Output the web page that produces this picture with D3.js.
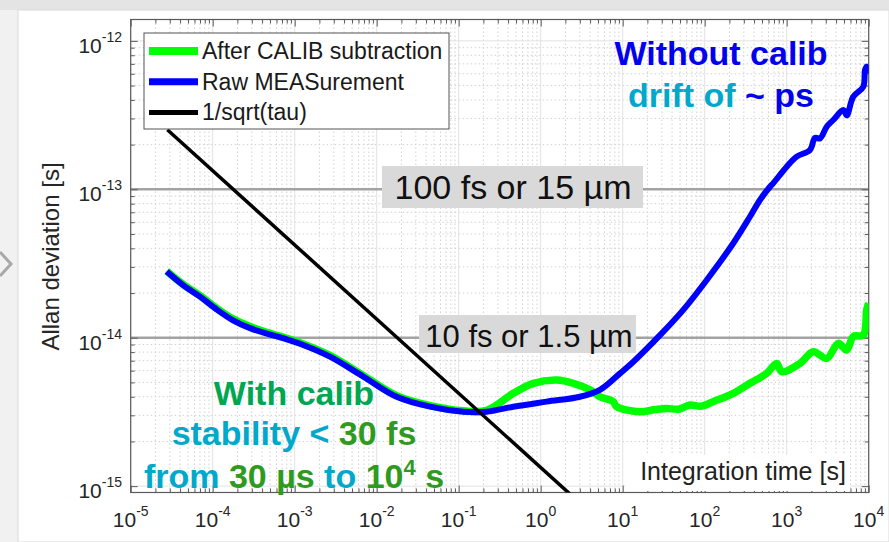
<!DOCTYPE html>
<html>
<head>
<meta charset="utf-8">
<script src="https://cdn.jsdelivr.net/npm/d3@7/dist/d3.min.js"></script>
<style>
body { margin: 0; background: #fff; }
svg { display: block; font-family: "Liberation Sans", Arial, sans-serif; }
</style>
</head>
<body>
<div id="chart"></div>
<script>
let w = 889;
let h = 542;
let plot = {left: 130.7, right: 868.7, top: 19.5, bottom: 492.5};

// tick exponents
let xTickExp = [-5, -4, -3, -2, -1, 0, 1, 2, 3, 4];
let yTickExp = [-15, -14, -13, -12];

// Raw MEASurement (blue)
let rawTau = [2.75e-5, 4.35e-5, 7.0e-5, 1.1e-4, 1.77e-4, 2.85e-4, 4.47e-4, 7.2e-4, 1.16e-3, 2.69e-3, 6.9e-3, 1.75e-2, 4.47e-2,
    0.114, 0.219, 0.463, 1.18, 3.01, 5.28, 9.27, 13.5, 28.5, 54.8, 106, 223, 356, 472, 625, 687,
    1000, 1324, 1923, 2213, 2547, 3076, 3698, 4898, 5395, 6486, 8590, 9016, 9462, 10000];
let rawDev = [2.79e-14, 2.26e-14, 1.89e-14, 1.56e-14, 1.31e-14, 1.16e-14, 1.07e-14, 9.95e-15, 9.1e-15, 7.45e-15, 5.46e-15, 4.0e-15, 3.43e-15,
    3.17e-15, 3.17e-15, 3.43e-15, 3.71e-15, 4.0e-15, 4.45e-15, 5.75e-15, 6.89e-15, 1.04e-14, 1.54e-14, 2.45e-14, 4.33e-14, 6.53e-14, 8.47e-14, 1.04e-13, 1.10e-13,
    1.42e-13, 1.66e-13, 1.84e-13, 2.22e-13, 2.20e-13, 2.64e-13, 2.93e-13, 3.42e-13, 3.15e-13, 4.21e-13, 4.91e-13, 6.37e-13, 6.70e-13, 6.05e-13];

// After CALIB subtraction (green)
let calTau = [2.75e-5, 4.35e-5, 7.0e-5, 1.1e-4, 1.77e-4, 2.85e-4, 4.47e-4, 7.2e-4, 1.16e-3, 2.69e-3, 6.9e-3, 1.75e-2, 4.47e-2,
    0.114, 0.219, 0.463, 0.813, 1.57, 2.5, 3.99, 5.28, 7.67, 8.45, 16.3, 25, 34.4, 48, 66.2, 90, 127, 223, 356, 570, 755, 869,
    1452, 2109, 3076, 4256, 5395, 6486, 8590, 9462, 10000];
let calDev = [2.81e-14, 2.29e-14, 1.92e-14, 1.59e-14, 1.34e-14, 1.19e-14, 1.09e-14, 1.01e-14, 9.25e-15, 7.6e-15, 5.55e-15, 4.07e-15, 3.49e-15,
    3.22e-15, 3.24e-15, 4.22e-15, 4.93e-15, 5.19e-15, 4.93e-15, 4.45e-15, 4.0e-15, 3.71e-15, 3.43e-15, 3.17e-15, 3.28e-15, 3.34e-15, 3.30e-15, 3.52e-15, 3.45e-15, 3.71e-15, 4.22e-15, 4.93e-15, 5.75e-15, 6.71e-15, 5.90e-15,
    6.71e-15, 8.05e-15, 7.26e-15, 9.16e-15, 8.26e-15, 1.02e-14, 1.04e-14, 1.54e-14, 1.71e-14];

// 1/sqrt(tau) reference (black), end points
let refTau = [2.8e-5, 2.3];
let refDev = [2.52e-13, 8.8e-16];

let legendLabels = ['After CALIB subtraction', 'Raw MEASurement', '1/sqrt(tau)'];
let legendColors = ['#00ff00', '#0000ff', '#000000'];

window.onload = () => {
    let svg = d3.select('#chart')
        .append('svg')
        .attr('width', w)
        .attr('height', h);

    // slide chrome around the figure
    svg.append('rect').attr('width', w).attr('height', h).attr('fill', '#f1f1f1');
    svg.append('rect').attr('width', w).attr('height', 10).attr('fill', '#e4e4e4');
    svg.append('rect').attr('x', 18).attr('y', 10).attr('width', w - 18).attr('height', h - 10)
        .attr('fill', '#fff').attr('stroke', '#dadada');
    svg.append('polyline')
        .attr('points', '0,252 11,264 0,276')
        .attr('fill', 'none').attr('stroke', '#a9a9a9').attr('stroke-width', 3);

    let xScale = d3.scaleLog()
        .domain([1e-5, 1e4])
        .range([plot.left, plot.right]);

    let yScale = d3.scaleLog()
        .domain([9.06e-16, 1.393e-12])
        .range([plot.bottom, plot.top]);

    let xMajor = xTickExp.map(e => Math.pow(10, e));
    let yMajor = d3.range(-16, -11).map(e => Math.pow(10, e)).filter(v => v >= 9.06e-16 && v <= 1.393e-12);
    let minorOf = (exps, lo, hi) => {
        let out = [];
        exps.forEach(e => d3.range(2, 10).forEach(k => {
            let v = k * Math.pow(10, e);
            if (v > lo && v < hi) out.push(v);
        }));
        return out;
    };
    let xMinor = minorOf(d3.range(-5, 4), 1e-5, 1e4);
    let yMinor = minorOf(d3.range(-16, -11), 9.06e-16, 1.393e-12);

    // grid
    let grid = svg.append('g');
    grid.selectAll('.xmin').data(xMinor).join('line')
        .attr('x1', d => xScale(d)).attr('x2', d => xScale(d))
        .attr('y1', plot.top).attr('y2', plot.bottom)
        .attr('stroke', '#d2d2d2').attr('stroke-dasharray', '1.5,2.5');
    grid.selectAll('.ymin').data(yMinor).join('line')
        .attr('y1', d => yScale(d)).attr('y2', d => yScale(d))
        .attr('x1', plot.left).attr('x2', plot.right)
        .attr('stroke', '#d2d2d2').attr('stroke-dasharray', '1.5,2.5');
    grid.selectAll('.xmaj').data(xMajor).join('line')
        .attr('x1', d => xScale(d)).attr('x2', d => xScale(d))
        .attr('y1', plot.top).attr('y2', plot.bottom)
        .attr('stroke', '#e2e2e2');
    grid.selectAll('.ymaj').data(yMajor).join('line')
        .attr('y1', d => yScale(d)).attr('y2', d => yScale(d))
        .attr('x1', plot.left).attr('x2', plot.right)
        .attr('stroke', '#e2e2e2');

    // 100 fs and 10 fs reference lines
    svg.selectAll('.ref').data([1e-13, 1e-14]).join('line')
        .attr('y1', d => yScale(d)).attr('y2', d => yScale(d))
        .attr('x1', plot.left).attr('x2', plot.right)
        .attr('stroke', '#a3a3a3').attr('stroke-width', 2.5);

    // axes, ticks inside
    let axes = [
        [d3.axisBottom(xScale), `translate(0,${plot.bottom})`, xMajor, xMinor],
        [d3.axisTop(xScale), `translate(0,${plot.top})`, xMajor, xMinor],
        [d3.axisLeft(yScale), `translate(${plot.left},0)`, yMajor, yMinor],
        [d3.axisRight(yScale), `translate(${plot.right},0)`, yMajor, yMinor]
    ];
    axes.forEach(([ax, tr, maj, min]) => {
        [[maj, 7], [min, 4]].forEach(([vals, len]) => {
            let g = svg.append('g')
                .attr('transform', tr)
                .call(ax.tickValues(vals).tickSize(-len).tickFormat(''));
            g.select('.domain').remove();
            g.selectAll('line').attr('stroke', '#5a5a5a');
        });
    });

    svg.append('rect')
        .attr('x', plot.left).attr('y', plot.top)
        .attr('width', plot.right - plot.left).attr('height', plot.bottom - plot.top)
        .attr('fill', 'none').attr('stroke', '#5a5a5a').attr('stroke-width', 1.2);

    // tick labels 10^n
    let xLab = svg.append('g').selectAll('text').data(xTickExp).join('text')
        .attr('x', d => xScale(Math.pow(10, d)))
        .attr('y', 527)
        .attr('text-anchor', 'middle')
        .attr('fill', '#262626');
    xLab.append('tspan').text('10').style('font-size', '21px');
    xLab.append('tspan').text(d => String(d)).attr('dy', -11).style('font-size', '14px');

    let yLab = svg.append('g').selectAll('text').data(yTickExp).join('text')
        .attr('x', 122)
        .attr('y', d => yScale(Math.pow(10, d)) + 12)
        .attr('text-anchor', 'end')
        .attr('fill', '#262626');
    yLab.append('tspan').text('10').style('font-size', '21px');
    yLab.append('tspan').text(d => String(d)).attr('dy', -11).style('font-size', '14px');

    svg.append('text')
        .attr('transform', 'translate(59,256.5) rotate(-90)')
        .attr('text-anchor', 'middle')
        .attr('fill', '#262626')
        .style('font-size', '24px')
        .text('Allan deviation [s]');

    // grey label boxes on the reference lines
    svg.append('rect').attr('x', 382).attr('y', 166).attr('width', 261).attr('height', 42).attr('fill', '#d9d9d9');
    svg.append('text').attr('x', 513).attr('y', 199).attr('text-anchor', 'middle')
        .style('font-size', '34px').attr('fill', '#111').text('100 fs or 15 µm');
    svg.append('rect').attr('x', 419).attr('y', 315).attr('width', 217).attr('height', 38).attr('fill', '#d9d9d9');
    svg.append('text').attr('x', 529).attr('y', 346.5).attr('text-anchor', 'middle')
        .style('font-size', '31px').attr('fill', '#111').text('10 fs or 1.5 µm');

    // x label with white backing
    svg.append('rect').attr('x', 625).attr('y', 455).attr('width', 225).attr('height', 36).attr('fill', '#fff');
    svg.append('text').attr('x', 743).attr('y', 479.5).attr('text-anchor', 'middle')
        .style('font-size', '25px').attr('fill', '#222').text('Integration time [s]');

    // curves
    svg.append('clipPath').attr('id', 'clip').append('rect')
        .attr('x', plot.left).attr('y', plot.top)
        .attr('width', plot.right - plot.left).attr('height', plot.bottom - plot.top);

    let line = d3.line()
        .x(d => xScale(d[0]))
        .y(d => yScale(d[1]))
        .curve(d3.curveCatmullRom.alpha(0.5));

    let curves = svg.append('g').attr('clip-path', 'url(#clip)');
    curves.append('path')
        .datum(d3.zip(calTau, calDev))
        .attr('d', line)
        .attr('fill', 'none').attr('stroke', '#00ff00').attr('stroke-width', 7.5)
        .attr('stroke-linejoin', 'round');
    curves.append('path')
        .datum(d3.zip(rawTau, rawDev))
        .attr('d', line)
        .attr('fill', 'none').attr('stroke', '#0000ff').attr('stroke-width', 6)
        .attr('stroke-linejoin', 'round');
    curves.append('path')
        .datum(d3.zip(refTau, refDev))
        .attr('d', d3.line().x(d => xScale(d[0])).y(d => yScale(d[1])))
        .attr('fill', 'none').attr('stroke', '#000').attr('stroke-width', 3.5);

    // legend
    let lg = svg.append('g');
    lg.append('rect').attr('x', 144).attr('y', 33).attr('width', 305).attr('height', 96)
        .attr('fill', '#fff').attr('stroke', '#555');
    let rows = lg.selectAll('g').data(legendLabels).join('g')
        .attr('transform', (d, i) => `translate(0,${51 + i * 30.7})`);
    rows.append('line')
        .attr('x1', 149).attr('x2', 198)
        .attr('stroke', (d, i) => legendColors[i])
        .attr('stroke-width', (d, i) => [8, 7, 5][i]);
    rows.append('text')
        .attr('x', 202).attr('y', 8)
        .style('font-size', '23px').attr('fill', '#1a1a1a')
        .text(d => d);

    // annotations
    let blue = '#0000ee', cyan = '#00a8cc', green = '#00a651', dgreen = '#2e9b1e';
    let ann = (x, y, parts) => {
        let t = svg.append('text').attr('x', x).attr('y', y).attr('text-anchor', 'middle')
            .style('font-size', '34px').style('font-weight', 'bold');
        parts.forEach(([s, c, sup]) => {
            let sp = t.append('tspan').attr('fill', c).text(s);
            if (sup) sp.style('font-size', '22px').attr('dy', -13);
            if (sup === false) sp.attr('dy', 13);
        });
    };
    ann(721, 65, [['Without calib', blue]]);
    ann(721, 107, [['drift of ', cyan], ['~ ps', blue]]);
    ann(294, 405, [['With calib', green]]);
    ann(294, 445, [['stability < ', cyan], ['30 fs', dgreen]]);
    ann(294, 488, [['from ', cyan], ['30 µs ', dgreen], ['to ', cyan], ['10', dgreen], ['4', dgreen, true], [' s', dgreen, false]]);
};
</script>
</body>
</html>
